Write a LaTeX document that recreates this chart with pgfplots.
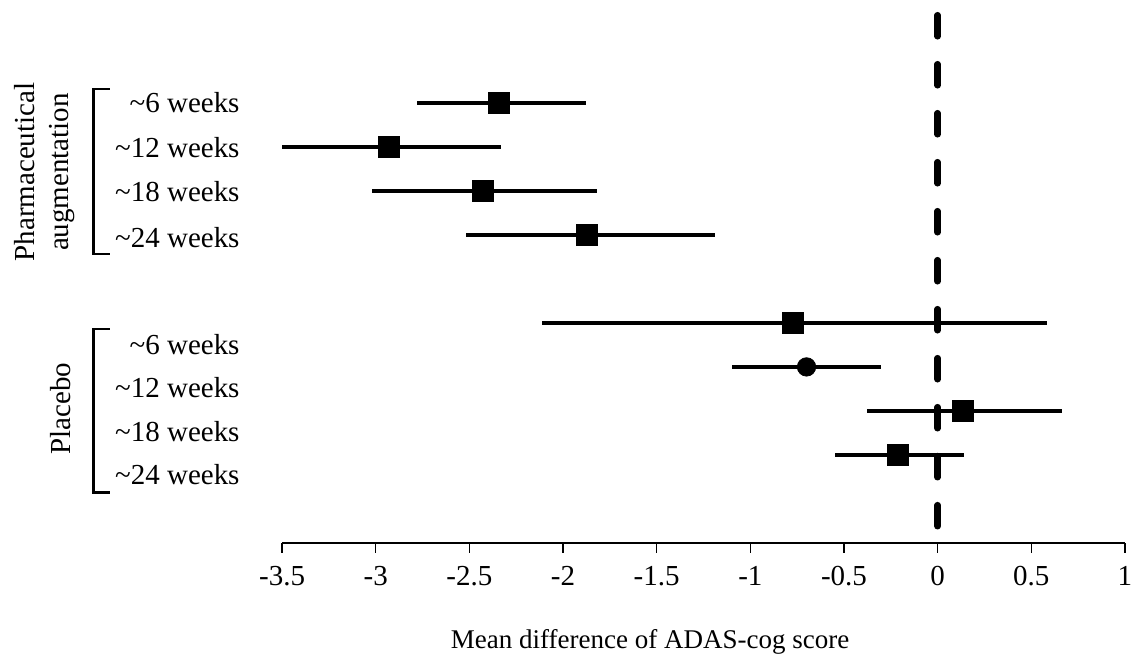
\documentclass[border=0pt]{standalone}
\usepackage{fontspec}
\setmainfont{Liberation Serif}
\usepackage{pgfplots}
\usepackage{pgfplotstable}
\pgfplotsset{compat=1.18}

% row = -(position from top), mean difference with 95% CI
\pgfplotstableread{
row  mean    lo      hi
-1   -2.34   -2.78   -1.88
-2   -2.93   -3.50   -2.33
-3   -2.43   -3.02   -1.82
-4   -1.87   -2.52   -1.19
-6   -0.775  -2.11    0.585
-8    0.137  -0.375   0.662
-9   -0.213  -0.55    0.14
}\squares
\pgfplotstableread{
row  mean    lo      hi
-7   -0.70   -1.10   -0.30
}\circles

\begin{document}
\begin{tikzpicture}
\begin{axis}[
    width=421.5pt, height=271.5pt, scale only axis,
    xmin=-3.5, xmax=1, ymin=-11, ymax=1.34,
    axis x line*=bottom, axis y line=none,
    xtick={-3.5,-3,...,1},
    xticklabels={-3.5,-3,-2.5,-2,-1.5,-1,-0.5,0,0.5,1},
    ytick=\empty,
    tick align=outside, major tick length=5pt,
    x axis line style={line width=0.7pt},
    xtick style={line width=0.7pt, black},
    xticklabel style={font=\fontsize{14.5}{16}\selectfont, yshift=-3pt},
    clip=false,
]
% frame of the whole picture
\path (axis cs:-5.006,1.34) rectangle (axis cs:1.091,-13.52);

% zero line
\addplot[black, line width=3.3pt, line cap=round, dash pattern=on 10.5pt off 14pt]
    coordinates {(0,0.993) (0,-10.63)};

% confidence intervals
\addplot[only marks, mark=none, error bars/.cd, x dir=both, x explicit,
    error mark=none, error bar style={line width=2pt, black, solid}]
    table[x=mean, y=row, x error plus expr=\thisrow{hi}-\thisrow{mean},
          x error minus expr=\thisrow{mean}-\thisrow{lo}] {\squares};
\addplot[only marks, mark=none, error bars/.cd, x dir=both, x explicit,
    error mark=none, error bar style={line width=2pt, black, solid}]
    table[x=mean, y=row, x error plus expr=\thisrow{hi}-\thisrow{mean},
          x error minus expr=\thisrow{mean}-\thisrow{lo}] {\circles};

% point estimates
\addplot[only marks, mark=square*, mark size=5.25pt, black] table[x=mean, y=row] {\squares};
\addplot[only marks, mark=*, mark size=4.6pt, black] table[x=mean, y=row] {\circles};

% row labels
\begin{scope}[every node/.style={anchor=east, font=\fontsize{14.5}{17}\selectfont, inner sep=0pt}]
\node at (axis cs:-3.725,-1.0)  {\textasciitilde6 weeks};
\node at (axis cs:-3.725,-2.02) {\textasciitilde12 weeks};
\node at (axis cs:-3.725,-3.02) {\textasciitilde18 weeks};
\node at (axis cs:-3.725,-4.05) {\textasciitilde24 weeks};
\node at (axis cs:-3.725,-6.5)  {\textasciitilde6 weeks};
\node at (axis cs:-3.725,-7.48) {\textasciitilde12 weeks};
\node at (axis cs:-3.725,-8.48) {\textasciitilde18 weeks};
\node at (axis cs:-3.725,-9.45) {\textasciitilde24 weeks};
\end{scope}

% brackets
\draw[line width=1.3pt] (axis cs:-4.42,-0.68) -- (axis cs:-4.506,-0.68)
    -- (axis cs:-4.506,-4.43) -- (axis cs:-4.42,-4.43);
\draw[line width=1.3pt] (axis cs:-4.42,-6.14) -- (axis cs:-4.506,-6.14)
    -- (axis cs:-4.506,-9.86) -- (axis cs:-4.42,-9.86);

% group labels
\node[rotate=90, align=center, font=\fontsize{14.5}{17}\selectfont]
    at (axis cs:-4.766,-2.57) {Pharmaceutical\\augmentation};
\node[rotate=90, font=\fontsize{14.5}{17}\selectfont]
    at (axis cs:-4.68,-7.95) {Placebo};

% axis title
\node[font=\fontsize{13.5}{16}\selectfont] at (axis cs:-1.535,-13.25)
    {Mean difference of ADAS-cog score};
\end{axis}
\end{tikzpicture}
\end{document}
